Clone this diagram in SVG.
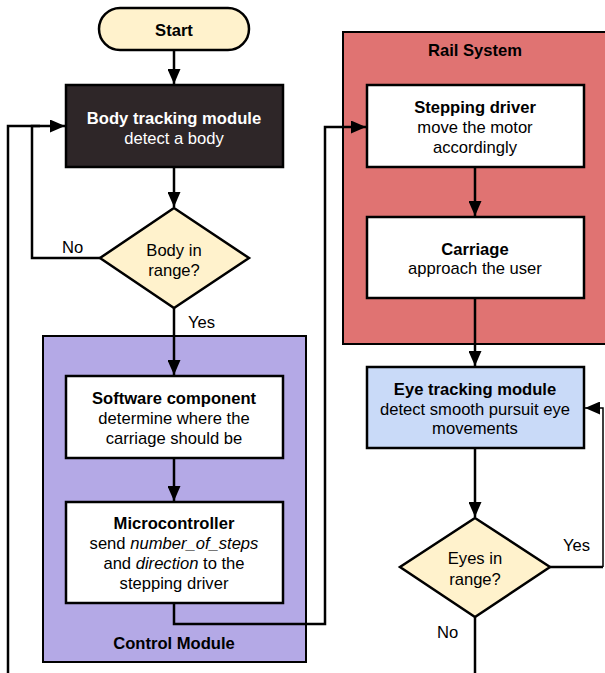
<svg xmlns="http://www.w3.org/2000/svg" width="605" height="673" viewBox="0 0 605 673">
<style>
text{font-family:"Liberation Sans",Arial,sans-serif;font-size:16.6px;fill:#000;text-anchor:middle}
.b{font-weight:bold}
.st{text-anchor:start}
.box{fill:#fff;stroke:#000;stroke-width:2.5}
.con{fill:none;stroke:#000;stroke-width:2.5}
</style>
<defs>
<marker id="ah" markerUnits="userSpaceOnUse" markerWidth="16" markerHeight="13" refX="15" refY="6.5" orient="auto">
<path d="M0,0 L15,6.5 L0,13 z" fill="#000"/>
</marker>
</defs>
<rect width="605" height="673" fill="#fff"/>
<g id="rail-system">
<rect x="343" y="32" width="264" height="312" fill="#e07372" stroke="#000" stroke-width="2"/>
<text x="475" y="56" class="b">Rail System</text>
</g>
<g id="control-module">
<rect x="43" y="336" width="263" height="326" fill="#b4a9e6" stroke="#000" stroke-width="2"/>
<text x="174" y="649" class="b">Control Module</text>
</g>
<g id="connectors">
<path class="con" d="M174,50 V84" marker-end="url(#ah)"/>
<path class="con" d="M174,167 V207" marker-end="url(#ah)"/>
<path class="con" d="M100,258 H32 V126 H65" marker-end="url(#ah)"/>
<path class="con" d="M8,673 V126 H40"/>
<path class="con" d="M174,308 V375" marker-end="url(#ah)"/>
<path class="con" d="M174,458 V501" marker-end="url(#ah)"/>
<path class="con" d="M174,603 V624 H325 V127 H366" marker-end="url(#ah)"/>
<path class="con" d="M475,167 V216" marker-end="url(#ah)"/>
<path class="con" d="M475,298 V366" marker-end="url(#ah)"/>
<path class="con" d="M475,448 V517" marker-end="url(#ah)"/>
<path class="con" d="M550,567 H603"/>
<path d="M603,567 V408 H585" fill="none" stroke="#000" stroke-width="1.5" marker-end="url(#ah)"/>
<path class="con" d="M475,617 V673"/>
<text x="62" y="253" class="st">No</text>
<text x="188" y="328" class="st">Yes</text>
<text x="563" y="551" class="st">Yes</text>
<text x="437" y="638" class="st">No</text>
</g>
<g id="start">
<rect x="99" y="8" width="150" height="42" rx="21" fill="#fff2cc" stroke="#000" stroke-width="2.5"/>
<text x="174" y="36" class="b">Start</text>
</g>
<g id="body-tracking">
<rect x="66" y="85" width="217" height="82" fill="#2e2628" stroke="#000" stroke-width="2.5"/>
<text x="174" y="124" class="b" style="fill:#fff">Body tracking module</text>
<text x="174" y="144" style="fill:#fff">detect a body</text>
</g>
<g id="body-in-range">
<polygon points="174,208 249,258 174,308 100,258" fill="#fff2cc" stroke="#000" stroke-width="2.5"/>
<text x="174" y="256">Body in</text>
<text x="174" y="276">range?</text>
</g>
<g id="software-component">
<rect class="box" x="66" y="376" width="217" height="82"/>
<text x="174" y="404" class="b">Software component</text>
<text x="174" y="424">determine where the</text>
<text x="174" y="444">carriage should be</text>
</g>
<g id="microcontroller">
<rect class="box" x="66" y="502" width="217" height="101"/>
<text x="174" y="529" class="b">Microcontroller</text>
<text x="174" y="549">send <tspan font-style="italic">number_of_steps</tspan></text>
<text x="174" y="569">and <tspan font-style="italic">direction</tspan> to the</text>
<text x="174" y="589">stepping driver</text>
</g>
<g id="stepping-driver">
<rect class="box" x="367" y="85" width="217" height="82"/>
<text x="475" y="113" class="b">Stepping driver</text>
<text x="475" y="133">move the motor</text>
<text x="475" y="153">accordingly</text>
</g>
<g id="carriage">
<rect class="box" x="367" y="217" width="217" height="81"/>
<text x="475" y="255" class="b">Carriage</text>
<text x="475" y="274">approach the user</text>
</g>
<g id="eye-tracking">
<rect x="367" y="367" width="217" height="81" fill="#c9daf8" stroke="#000" stroke-width="2.5"/>
<text x="475" y="395" class="b">Eye tracking module</text>
<text x="475" y="415">detect smooth pursuit eye</text>
<text x="475" y="434">movements</text>
</g>
<g id="eyes-in-range">
<polygon points="475,518 550,567 475,617 400,567" fill="#fff2cc" stroke="#000" stroke-width="2.5"/>
<text x="475" y="564">Eyes in</text>
<text x="475" y="585">range?</text>
</g>
</svg>
